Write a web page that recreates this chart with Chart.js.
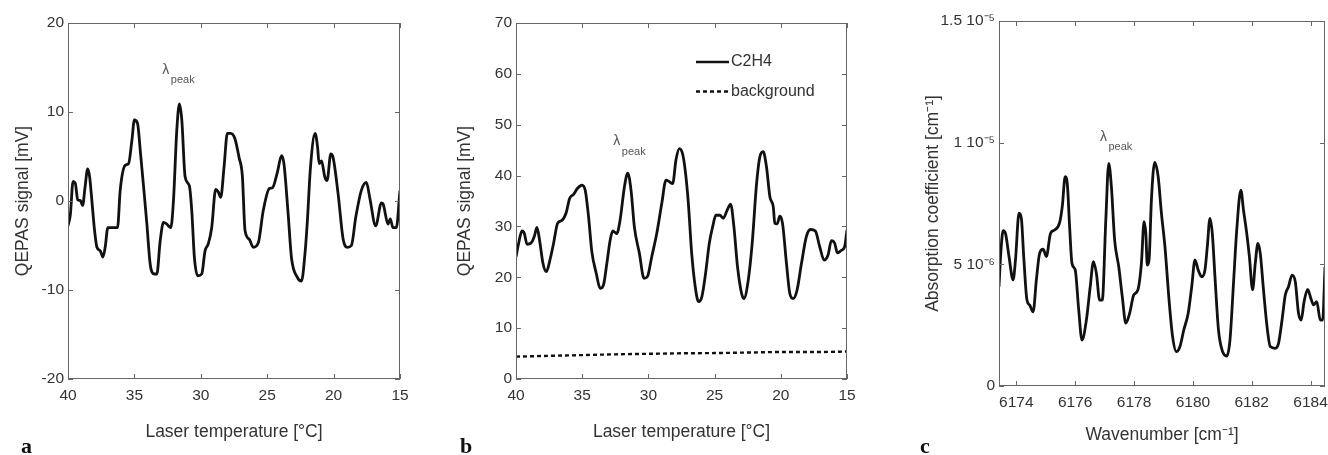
<!DOCTYPE html>
<html>
<head>
<meta charset="utf-8">
<script src="https://cdn.jsdelivr.net/npm/chart.js@4.4.0/dist/chart.umd.min.js"></script>
<style>
  html, body { margin: 0; padding: 0; background: #fff; }
  #wrap { position: relative; width: 1328px; height: 455px; overflow: hidden; background: #fff; }
  .panel { position: absolute; top: 0; height: 455px; }
  canvas { display: block; }
</style>
</head>
<body>
<div id="wrap">
  <div class="panel" style="left:0;width:440px"><canvas id="chartA" width="440" height="455"></canvas></div>
  <div class="panel" style="left:440px;width:440px"><canvas id="chartB" width="440" height="455"></canvas></div>
  <div class="panel" style="left:880px;width:448px"><canvas id="chartC" width="448" height="455"></canvas></div>
</div>
<script>
// ---- Panel a: QEPAS signal vs laser temperature (2f scan) ----
const tempA = [40, 39.82, 39.62, 39.45, 39.27, 39.07, 38.9, 38.72, 38.52, 38.37, 38.2, 38.0, 37.82, 37.57, 37.37, 37.2, 37.0, 36.74, 36.5, 36.27, 36.07, 35.7, 35.44, 35.19, 35.0, 34.76, 34.56, 34.26, 34.06, 33.81, 33.51, 33.31, 33.06, 32.81, 32.56, 32.26, 32.06, 31.81, 31.61, 31.43, 31.18, 30.86, 30.68, 30.48, 30.23, 29.93, 29.68, 29.43, 29.18, 28.88, 28.68, 28.5, 28.25, 28.0, 27.75, 27.43, 27.12, 26.87, 26.67, 26.35, 26.05, 25.67, 25.3, 24.84, 24.6, 24.24, 23.92, 23.74, 23.42, 23.17, 22.72, 22.42, 22.16, 21.99, 21.74, 21.39, 21.21, 21.09, 20.91, 20.66, 20.49, 20.21, 20.04, 19.66, 19.28, 18.96, 18.66, 18.33, 17.91, 17.53, 17.28, 16.83, 16.4, 16.28, 15.9, 15.73, 15.53, 15.28, 15.0];
const signalA = [-2.8, -1.5, 2.2, 2.0, 0.15, 0.04, -0.5, 1.5, 3.6, 2.7, 0, -3.3, -5.2, -5.6, -6.3, -5.2, -3.0, -3.0, -3.0, -3.0, 1.2, 4.0, 4.2, 6.8, 9.1, 8.7, 5.7, 0.8, -2.6, -7.1, -8.2, -8.2, -4.5, -2.4, -2.6, -3.0, 0, 7.9, 10.9, 9.1, 2.7, 1.7, -1.1, -6.4, -8.4, -8.2, -5.6, -4.8, -3.0, 1.3, 1.0, 0.4, 3.8, 7.6, 7.6, 7.0, 4.9, 2.8, -3.3, -4.3, -5.2, -4.7, -1.1, 1.4, 1.5, 3.2, 5.1, 4.2, -1.5, -6.4, -8.6, -9.0, -6.0, -2.6, 3.8, 7.6, 6.1, 4.2, 4.5, 2.7, 2.3, 5.3, 4.9, 0.8, -4.3, -5.2, -5.0, -1.8, 1.2, 2.1, 0.4, -2.8, -0.2, -0.3, -2.6, -2.0, -3.0, -3.0, 1.2];

// ---- Panel b: C2H4 signal and background ----
const tempB = [40, 39.8, 39.55, 39.37, 39.17, 38.87, 38.62, 38.42, 38.22, 37.96, 37.71, 37.41, 37.16, 36.86, 36.53, 36.21, 35.95, 35.65, 35.35, 35.03, 34.77, 34.52, 34.27, 33.94, 33.64, 33.39, 33.14, 32.89, 32.69, 32.39, 32.14, 31.81, 31.56, 31.31, 31.06, 30.68, 30.33, 30.08, 29.75, 29.37, 28.99, 28.67, 28.42, 28.17, 27.91, 27.66, 27.41, 27.19, 26.98, 26.73, 26.46, 26.21, 25.96, 25.68, 25.4, 25.15, 24.9, 24.6, 24.35, 24.05, 23.79, 23.54, 23.27, 22.96, 22.79, 22.46, 22.16, 21.83, 21.58, 21.33, 21.08, 20.82, 20.57, 20.45, 20.27, 20.08, 19.87, 19.57, 19.32, 19.07, 18.77, 18.44, 18.07, 17.76, 17.39, 17.06, 16.73, 16.43, 16.18, 15.93, 15.73, 15.43, 15.18, 15.0];
const signalB = [24.0, 26.7, 29.1, 28.6, 26.5, 26.7, 28.0, 29.8, 27.3, 22.7, 21.1, 23.7, 26.7, 30.6, 31.2, 32.7, 35.5, 36.3, 37.5, 38.1, 37.1, 31.9, 25.0, 20.8, 17.8, 18.5, 22.7, 27.3, 29.1, 28.6, 31.2, 37.8, 40.5, 37.1, 29.9, 24.7, 19.8, 20.1, 24.0, 28.6, 34.5, 39.1, 38.8, 38.4, 43.2, 45.3, 44.2, 40.4, 34.5, 24.7, 18.1, 15.2, 16.2, 20.8, 26.7, 29.9, 32.2, 32.2, 31.6, 33.2, 34.4, 29.9, 22.1, 16.8, 15.8, 19.4, 26.7, 38.4, 43.7, 44.7, 41.7, 35.8, 33.9, 30.6, 30.5, 32.0, 30.6, 22.7, 16.8, 15.8, 17.5, 22.7, 28.0, 29.4, 29.1, 26.0, 23.4, 24.4, 27.2, 26.7, 24.8, 25.3, 26.0, 29.3];
const tempBg = [40, 37.5, 35, 32.5, 30, 27.5, 25, 22.5, 20, 17.5, 15];
const signalBg = [4.4, 4.55, 4.7, 4.85, 4.95, 5.05, 5.1, 5.2, 5.3, 5.3, 5.4];

// ---- Panel c: absorption coefficient vs wavenumber ----
const waveC = [6173.41, 6173.47, 6173.55, 6173.63, 6173.75, 6173.89, 6173.97, 6174.09, 6174.17, 6174.25, 6174.36, 6174.45, 6174.57, 6174.68, 6174.79, 6174.91, 6175.02, 6175.16, 6175.3, 6175.47, 6175.56, 6175.66, 6175.73, 6175.81, 6175.89, 6176.0, 6176.12, 6176.23, 6176.38, 6176.51, 6176.62, 6176.72, 6176.83, 6176.92, 6177.04, 6177.14, 6177.23, 6177.34, 6177.48, 6177.6, 6177.72, 6177.85, 6177.99, 6178.13, 6178.25, 6178.34, 6178.4, 6178.45, 6178.51, 6178.59, 6178.7, 6178.82, 6178.93, 6179.05, 6179.19, 6179.31, 6179.44, 6179.56, 6179.69, 6179.84, 6179.96, 6180.07, 6180.18, 6180.3, 6180.41, 6180.49, 6180.58, 6180.66, 6180.75, 6180.87, 6181.01, 6181.15, 6181.26, 6181.38, 6181.49, 6181.63, 6181.72, 6181.83, 6181.92, 6182.03, 6182.12, 6182.21, 6182.29, 6182.4, 6182.52, 6182.63, 6182.8, 6182.91, 6183.03, 6183.14, 6183.25, 6183.37, 6183.48, 6183.59, 6183.68, 6183.78, 6183.9, 6184.01, 6184.1, 6184.21, 6184.33, 6184.41, 6184.49];
const absC = [4.08e-6, 5.45e-6, 6.38e-6, 6.27e-6, 5.32e-6, 4.36e-6, 5.18e-6, 7.1e-6, 6.89e-6, 5.32e-6, 3.53e-6, 3.33e-6, 3.05e-6, 4.36e-6, 5.45e-6, 5.62e-6, 5.32e-6, 6.27e-6, 6.41e-6, 6.71e-6, 7.37e-6, 8.6e-6, 8.33e-6, 6.55e-6, 5.04e-6, 4.77e-6, 3.12e-6, 1.89e-6, 2.71e-6, 4.08e-6, 5.11e-6, 4.63e-6, 3.53e-6, 3.53e-6, 6.82e-6, 9.15e-6, 8.19e-6, 6.0e-6, 4.9e-6, 3.67e-6, 2.58e-6, 2.99e-6, 3.74e-6, 3.95e-6, 5.04e-6, 6.75e-6, 6.27e-6, 4.97e-6, 5.18e-6, 7.64e-6, 9.19e-6, 8.6e-6, 7.1e-6, 5.73e-6, 3.53e-6, 2.03e-6, 1.41e-6, 1.62e-6, 2.3e-6, 2.99e-6, 4.08e-6, 5.18e-6, 4.77e-6, 4.49e-6, 4.77e-6, 5.73e-6, 6.89e-6, 6.27e-6, 4.49e-6, 2.3e-6, 1.41e-6, 1.23e-6, 1.89e-6, 4.22e-6, 6.41e-6, 8.05e-6, 7.23e-6, 6.27e-6, 5.32e-6, 3.95e-6, 5.04e-6, 5.86e-6, 5.45e-6, 3.95e-6, 2.44e-6, 1.62e-6, 1.55e-6, 1.75e-6, 2.71e-6, 3.74e-6, 4.08e-6, 4.56e-6, 4.29e-6, 2.99e-6, 2.71e-6, 3.47e-6, 3.97e-6, 3.6e-6, 3.33e-6, 3.47e-6, 2.71e-6, 2.71e-6, 4.9e-6];

// ---- Tick values and labels ----
const xTicksTemp = [40, 35, 30, 25, 20, 15];
const yTicksA = [-20, -10, 0, 10, 20];
const yTicksB = [0, 10, 20, 30, 40, 50, 60, 70];
const xTicksC = [6174, 6176, 6178, 6180, 6182, 6184];
const yTicksC = [0, 5e-6, 1e-5, 1.5e-5];
const yTickLabelsC = ['0', '5 10\u207B\u2076', '1 10\u207B\u2075', '1.5 10\u207B\u2075'];

const FONT = '"Liberation Sans", Arial, sans-serif';
const TEXT = '#333';
const AXIS = '#666';
const LINE = '#111';
const TICK_LEN = 5;

function toPoints(xs, ys) { return xs.map((x, i) => ({ x: x, y: ys[i] })); }

// Box frame, inward tick marks, peak marker, legend and panel letter
const decor = {
  id: 'decor',
  afterDatasetsDraw(chart, args, opts) {
    const { ctx, chartArea: a, scales: { x, y } } = chart;
    ctx.save();
    ctx.strokeStyle = AXIS;
    ctx.lineWidth = 1;
    ctx.beginPath();
    x.ticks.forEach(t => {
      const px = Math.round(x.getPixelForValue(t.value)) + 0.5;
      ctx.moveTo(px, a.bottom); ctx.lineTo(px, a.bottom - TICK_LEN);
      ctx.moveTo(px, a.top); ctx.lineTo(px, a.top + TICK_LEN);
    });
    y.ticks.forEach(t => {
      const py = Math.round(y.getPixelForValue(t.value)) + 0.5;
      ctx.moveTo(a.left, py); ctx.lineTo(a.left + TICK_LEN, py);
      ctx.moveTo(a.right, py); ctx.lineTo(a.right - TICK_LEN, py);
    });
    ctx.stroke();
    const L = Math.round(a.left) + 0.5, T = Math.round(a.top) + 0.5;
    const R = Math.round(a.right) - 0.5, B = Math.round(a.bottom) - 0.5;
    ctx.strokeRect(L, T, R - L, B - T);

    if (opts.peak) {
      const px = x.getPixelForValue(opts.peak.x);
      const py = y.getPixelForValue(opts.peak.y);
      ctx.fillStyle = '#555';
      ctx.textAlign = 'left';
      ctx.textBaseline = 'middle';
      ctx.font = '14px ' + FONT;
      ctx.fillText('\u03BB', px, py);
      ctx.font = '11px ' + FONT;
      ctx.fillText('peak', px + 8.5, py + 10);
    }

    if (opts.legend) {
      const lx = a.left + opts.legend.dx, ly = a.top + opts.legend.dy;
      ctx.font = '16px ' + FONT;
      ctx.textAlign = 'left';
      ctx.textBaseline = 'middle';
      opts.legend.items.forEach((it, i) => {
        const yy = ly + i * opts.legend.gap;
        ctx.strokeStyle = LINE;
        ctx.lineWidth = 2.4;
        ctx.setLineDash(it.dash || []);
        ctx.beginPath();
        ctx.moveTo(lx, yy); ctx.lineTo(lx + 33, yy);
        ctx.stroke();
        ctx.setLineDash([]);
        ctx.fillStyle = TEXT;
        ctx.fillText(it.label, lx + 35, yy);
      });
    }

    if (opts.letter) {
      ctx.fillStyle = '#111';
      ctx.font = 'bold 22px "Liberation Serif", "Times New Roman", serif';
      ctx.textAlign = 'left';
      ctx.textBaseline = 'alphabetic';
      ctx.fillText(opts.letter.text, opts.letter.x, opts.letter.y);
    }
    ctx.restore();
  }
};

function makeChart(id, cfg) {
  const tickFont = { family: FONT, size: 15.5 };
  const titleFont = { family: FONT, size: 17.5 };
  return new Chart(document.getElementById(id), {
    type: 'scatter',
    data: { datasets: cfg.datasets },
    plugins: [decor],
    options: {
      responsive: false,
      animation: false,
      events: [],
      layout: { padding: cfg.padding },
      plugins: {
        legend: { display: false },
        tooltip: { enabled: false },
        decor: cfg.decor
      },
      scales: {
        x: {
          type: 'linear',
          min: cfg.xMin, max: cfg.xMax, reverse: !!cfg.xReverse,
          afterBuildTicks: s => { s.ticks = cfg.xTicks.map(v => ({ value: v })); },
          afterFit: s => { s.height = cfg.xAxisH; s.paddingLeft = 0; s.paddingRight = 0; },
          grid: { display: false, drawTicks: false },
          border: { display: false },
          ticks: { font: tickFont, color: TEXT, padding: 7, maxRotation: 0, autoSkip: false,
                   callback: v => String(v) },
          title: { display: true, text: cfg.xTitle, font: titleFont, color: TEXT,
                   padding: { top: 0, bottom: cfg.xTitlePad } }
        },
        y: {
          type: 'linear',
          min: cfg.yMin, max: cfg.yMax,
          afterBuildTicks: s => { s.ticks = cfg.yTicks.map(v => ({ value: v })); },
          afterFit: s => { s.width = cfg.yAxisW; s.paddingTop = 0; s.paddingBottom = 0; },
          grid: { display: false, drawTicks: false },
          border: { display: false },
          ticks: { font: tickFont, color: TEXT, padding: 4, autoSkip: false,
                   callback: cfg.yFmt || (v => String(v)) },
          title: { display: true, text: cfg.yTitle, font: titleFont, color: TEXT,
                   padding: { top: cfg.yTitlePad, bottom: 0 } }
        }
      }
    }
  });
}

const solid = (pts) => ({
  data: pts, showLine: true, borderColor: LINE, borderWidth: 2.8,
  pointRadius: 0, cubicInterpolationMode: 'monotone', fill: false
});

makeChart('chartA', {
  datasets: [solid(toPoints(tempA, signalA))],
  padding: { left: 0, right: 40, top: 23, bottom: 0 },
  xMin: 15, xMax: 40, xReverse: true, xTicks: xTicksTemp, xAxisH: 76,
  yMin: -20, yMax: 20, yTicks: yTicksA, yAxisW: 68,
  xTitle: 'Laser temperature [\u00B0C]', xTitlePad: 12,
  yTitle: 'QEPAS signal [mV]', yTitlePad: 13,
  decor: { peak: { x: 32.9, y: 14.7 }, letter: { text: 'a', x: 21, y: 453 } }
});

makeChart('chartB', {
  datasets: [
    solid(toPoints(tempB, signalB)),
    Object.assign(solid(toPoints(tempBg, signalBg)), { borderDash: [4, 3], borderWidth: 2.4 })
  ],
  padding: { left: 0, right: 33, top: 23, bottom: 0 },
  xMin: 15, xMax: 40, xReverse: true, xTicks: xTicksTemp, xAxisH: 76,
  yMin: 0, yMax: 70, yTicks: yTicksB, yAxisW: 76,
  xTitle: 'Laser temperature [\u00B0C]', xTitlePad: 12,
  yTitle: 'QEPAS signal [mV]', yTitlePad: 15,
  decor: {
    peak: { x: 32.65, y: 46.7 },
    legend: { dx: 180, dy: 39, gap: 29.5, items: [
      { label: 'C2H4' },
      { label: 'background', dash: [4, 3] }
    ] },
    letter: { text: 'b', x: 20, y: 453 }
  }
});

makeChart('chartC', {
  datasets: [solid(toPoints(waveC, absC))],
  padding: { left: 0, right: 3, top: 21, bottom: 0 },
  xMin: 6173.41, xMax: 6184.49, xTicks: xTicksC, xAxisH: 69,
  yMin: 0, yMax: 1.5e-5, yTicks: yTicksC, yAxisW: 119,
  yFmt: (v, i) => yTickLabelsC[i],
  xTitle: 'Wavenumber [cm\u207B\u00B9]', xTitlePad: 9,
  yTitle: 'Absorption coefficient [cm\u207B\u00B9]', yTitlePad: 43,
  decor: { peak: { x: 6176.84, y: 1.024e-5 }, letter: { text: 'c', x: 40, y: 453 } }
});
</script>
</body>
</html>
